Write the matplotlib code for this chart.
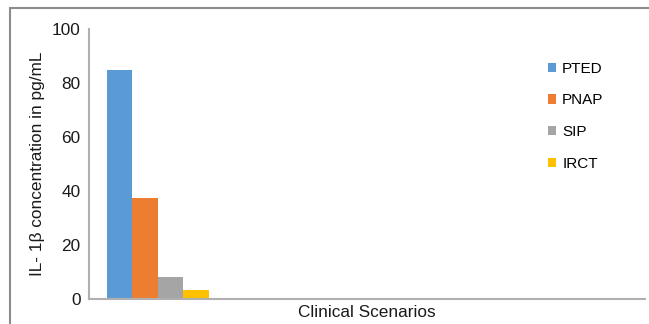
import matplotlib.pyplot as plt
from matplotlib.patches import Rectangle

plt.rcParams['font.family'] = ['Liberation Sans', 'DejaVu Sans']

groups = ['PTED', 'PNAP', 'SIP', 'IRCT']
il1b = [85, 37.5, 8.3, 3.4]
colors = ['#5B9BD5', '#ED7D31', '#A5A5A5', '#FFC000']
category = 'Clinical Scenarios'

fig = plt.figure(figsize=(6.49, 3.24), dpi=100)
ax = fig.add_axes([0.137, 0.077, 0.857, 0.833])

# thin frame around the whole chart area
fig.patches.append(Rectangle((10 / 649, -0.1), 1.2, 1.1 - 8 / 324,
                             transform=fig.transFigure, fill=False,
                             edgecolor='#8c8c8c', linewidth=1.5))

for x, v, c, g in zip(range(len(groups)), il1b, colors, groups):
    ax.bar(x, v, width=1.0, color=c, label=g)

ax.set_xlim(-1.2, 20.6)
ax.set_ylim(0, 100)
ax.set_yticks([0, 20, 40, 60, 80, 100])
ax.set_xticks([9.7])
ax.set_xticklabels([category])

for s in ['top', 'right']:
    ax.spines[s].set_visible(False)
for s in ['left', 'bottom']:
    ax.spines[s].set_color('#b0b0b0')
    ax.spines[s].set_linewidth(1.5)
ax.tick_params(axis='both', length=0, labelsize=12.4, colors='#1a1a1a')
ax.tick_params(axis='y', pad=6)
ax.tick_params(axis='x', pad=4)

ax.set_ylabel('IL- 1β concentration in pg/mL', fontsize=12.4, color='#1a1a1a', labelpad=5)

ax.legend(loc='upper left', bbox_to_anchor=(0.8, 0.93), frameon=False,
          fontsize=11, handlelength=0.55, handleheight=0.55,
          handletextpad=0.4, labelspacing=1.15)

fig.savefig('out.png', dpi=100)
